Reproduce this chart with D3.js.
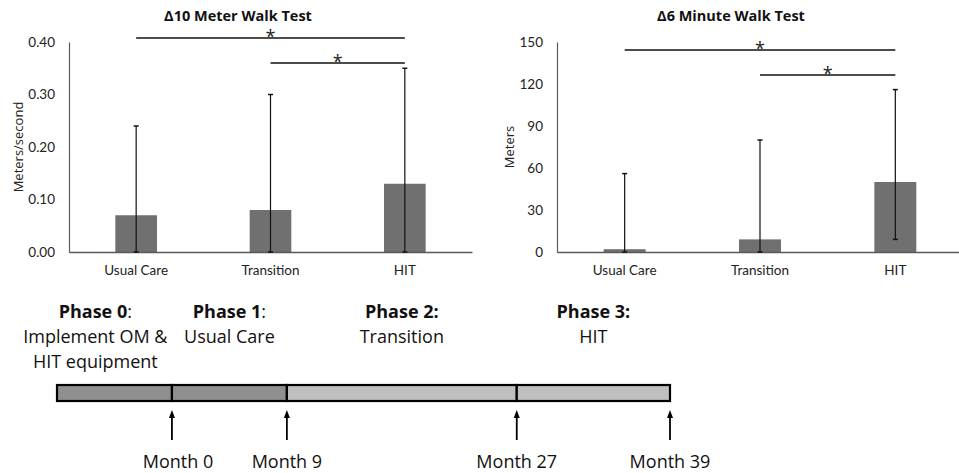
<!DOCTYPE html>
<html>
<head>
<meta charset="utf-8">
<script src="https://cdn.jsdelivr.net/npm/d3@7"></script>
<style>
  html, body { margin: 0; padding: 0; background: #fff; }
  svg { display: block; font-family: "Open Sans", Lato, sans-serif; }
</style>
</head>
<body>
<svg id="chart" width="959" height="473"></svg>
<script>
// Outcome groups
const groups = ["Usual Care", "Transition", "HIT"];

// Δ10 Meter Walk Test (m/s)
const gaitMean = [0.07, 0.08, 0.13];
const gaitLow  = [0.00, 0.00, 0.00];
const gaitHigh = [0.24, 0.30, 0.35];
const gaitTicks = [0, 0.1, 0.2, 0.3, 0.4];

// Δ6 Minute Walk Test (m)
const walkMean = [2, 9, 50];
const walkLow  = [0, 0, 9];
const walkHigh = [56, 80, 116];
const walkTicks = [0, 30, 60, 90, 120, 150];

// Significance brackets: [from group, to group]
const sigPairs = [["Usual Care", "HIT"], ["Transition", "HIT"]];

// Study timeline (months)
const phaseNames  = ["Phase 0", "Phase 1", "Phase 2", "Phase 3"];
const phaseColon  = [":", ":", ":", ":"];
const phaseDesc   = [["Implement OM &", "HIT equipment"], ["Usual Care"], ["Transition"], ["HIT"]];
const phaseStart  = [-9, 0, 9, 27];
const phaseEnd    = [0, 9, 27, 39];
const phaseLabelAt = [-6, 4.5, 18, 33];
const milestones  = [0, 9, 27, 39];

const svg = d3.select("#chart");

const BAR = "#707070";
const AXIS = "#595959";

function panel(opts) {
  const { left, right, top, bottom, max, ticks, fmt, mean, low, high, title, ylabel, ylabelX, titleX, sigY, sigStarDy } = opts;
  const g = svg.append("g");
  const x = d3.scaleBand().domain(groups).range([left, right]).paddingInner(0.69).paddingOuter(0.345);
  const y = d3.scaleLinear().domain([0, max]).range([bottom, top]);

  // y axis
  const ya = g.append("g").attr("transform", `translate(${left},0)`)
    .call(d3.axisLeft(y).tickValues(ticks).tickFormat(fmt).tickSize(0).tickPadding(14));
  ya.select(".domain").attr("stroke", AXIS).attr("stroke-width", 1.2);
  ya.selectAll("text").attr("font-size", 13.5).attr("fill", "#222").attr("font-family", "Lato, sans-serif");

  // bars
  g.selectAll("rect.bar").data(groups).join("rect")
    .attr("x", d => x(d)).attr("width", x.bandwidth())
    .attr("y", (d, i) => y(mean[i])).attr("height", (d, i) => bottom - y(mean[i]))
    .attr("fill", BAR);

  // x axis
  const xa = g.append("g").attr("transform", `translate(0,${bottom})`)
    .call(d3.axisBottom(x).tickSize(0).tickPadding(13));
  xa.select(".domain").attr("stroke", AXIS).attr("stroke-width", 1.5);
  xa.selectAll("text").attr("font-size", 13.5).attr("fill", "#222").attr("font-family", "Lato, sans-serif");

  // error bars
  const cx = d => x(d) + x.bandwidth() / 2;
  g.selectAll("line.err").data(groups).join("line")
    .attr("x1", cx).attr("x2", cx)
    .attr("y1", (d, i) => y(low[i])).attr("y2", (d, i) => y(high[i]))
    .attr("stroke", "#111").attr("stroke-width", 1.2);
  g.selectAll("line.capHi").data(groups).join("line")
    .attr("x1", d => cx(d) - 2.5).attr("x2", d => cx(d) + 2.5)
    .attr("y1", (d, i) => y(high[i])).attr("y2", (d, i) => y(high[i]))
    .attr("stroke", "#111").attr("stroke-width", 1.5);
  g.selectAll("line.capLo").data(groups).join("line")
    .attr("x1", d => cx(d) - 2.5).attr("x2", d => cx(d) + 2.5)
    .attr("y1", (d, i) => y(low[i])).attr("y2", (d, i) => y(low[i]))
    .attr("stroke", "#111").attr("stroke-width", 1.5);

  // significance brackets
  sigPairs.forEach((p, k) => {
    const x1 = cx(p[0]), x2 = cx(p[1]);
    g.append("line").attr("x1", x1).attr("x2", x2).attr("y1", sigY[k]).attr("y2", sigY[k])
      .attr("stroke", "#111").attr("stroke-width", 1.6);
    g.append("text").attr("x", (x1 + x2) / 2).attr("y", sigY[k] + sigStarDy)
      .attr("text-anchor", "middle").attr("font-size", 18).attr("fill", "#222")
      .text("*");
  });

  // title
  g.append("text").attr("x", titleX).attr("y", 21).attr("text-anchor", "middle")
    .attr("font-size", 14.5).attr("font-weight", "bold").attr("fill", "#111").text(title);

  // y label
  g.append("text").attr("transform", `translate(${ylabelX},${(top + bottom) / 2}) rotate(-90)`)
    .attr("text-anchor", "middle").attr("font-size", 13).attr("fill", "#222").text(ylabel);
}

panel({ left: 69, right: 472, top: 42, bottom: 252, max: 0.4, ticks: gaitTicks, fmt: d3.format(".2f"),
  mean: gaitMean, low: gaitLow, high: gaitHigh, title: "Δ10 Meter Walk Test",
  ylabel: "Meters/second", ylabelX: 23, titleX: 238, sigY: [38, 63], sigStarDy: 5 });

panel({ left: 557, right: 963, top: 42, bottom: 252, max: 150, ticks: walkTicks, fmt: d3.format("d"),
  mean: walkMean, low: walkLow, high: walkHigh, title: "Δ6 Minute Walk Test",
  ylabel: "Meters", ylabelX: 514, titleX: 731, sigY: [50, 75], sigStarDy: 5 });

// ---- Timeline ----
const t = d3.scaleLinear().domain([-9, 39]).range([57, 670]);
const tl = svg.append("g");
const barTop = 385, barH = 16;
const segColors = ["#8f8f8f", "#8f8f8f", "#bfbfbf", "#bfbfbf"];

tl.selectAll("rect.seg").data(phaseStart).join("rect")
  .attr("x", (d) => t(d)).attr("width", (d, i) => t(phaseEnd[i]) - t(d))
  .attr("y", barTop).attr("height", barH)
  .attr("fill", (d, i) => segColors[i]).attr("stroke", "#000").attr("stroke-width", 2.2);

// phase labels
const FS = 18;
phaseNames.forEach((name, i) => {
  const cxp = t(phaseLabelAt[i]);
  const head = tl.append("text").attr("x", cxp).attr("y", 318).attr("text-anchor", "middle")
    .attr("font-size", FS).attr("fill", "#111");
  head.append("tspan").attr("font-weight", "bold").text(name);
  head.append("tspan").attr("font-weight", i >= 2 ? "bold" : "normal").text(phaseColon[i]);
  phaseDesc[i].forEach((line, j) => {
    tl.append("text").attr("x", cxp).attr("y", 343 + j * 24.5).attr("text-anchor", "middle")
      .attr("font-size", FS).attr("fill", "#111").text(line);
  });
});

tl.selectAll("line.arrow").data(milestones).join("line")
  .attr("x1", d => t(d)).attr("x2", d => t(d))
  .attr("y1", 440).attr("y2", 413)
  .attr("stroke", "#000").attr("stroke-width", 1.8);
tl.selectAll("path.head").data(milestones).join("path")
  .attr("d", d => `M${t(d) - 3},${418} L${t(d)},${410} L${t(d) + 3},${418} Z`)
  .attr("fill", "#000");

tl.selectAll("text.month").data(milestones).join("text")
  .attr("x", d => t(d) + (d === 0 ? 6 : 0)).attr("y", 468).attr("text-anchor", "middle")
  .attr("font-size", FS).attr("fill", "#111").text(d => `Month ${d}`);
</script>
</body>
</html>
